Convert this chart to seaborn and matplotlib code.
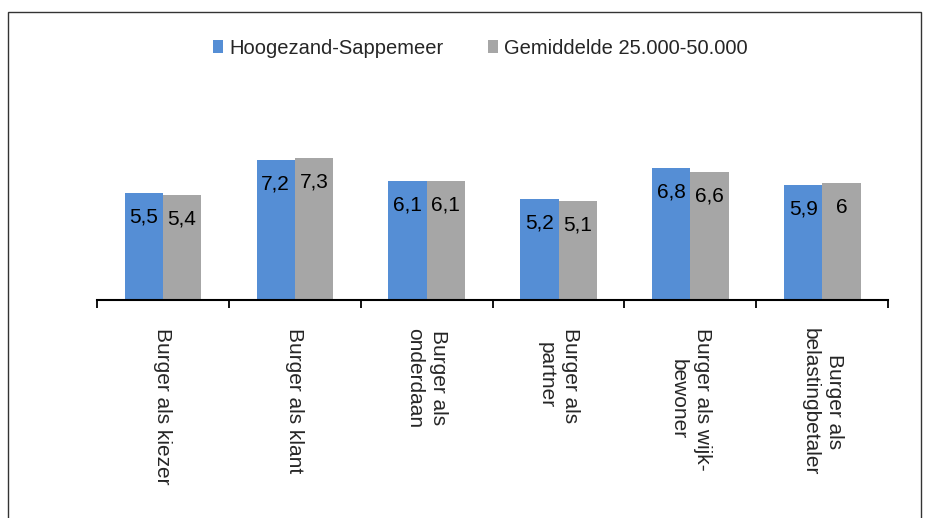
import numpy as np
import pandas as pd
import matplotlib
matplotlib.use("Agg")
import matplotlib.pyplot as plt
import seaborn as sns
from matplotlib.patches import Rectangle
from matplotlib.ticker import FixedLocator

categories = ["Burger als kiezer", "Burger als klant", "Burger als\nonderdaan",
              "Burger als\npartner", "Burger als wijk-\nbewoner", "Burger als\nbelastingbetaler"]
series = ["Hoogezand-Sappemeer", "Gemiddelde 25.000-50.000"]
hoogezand = [5.5, 7.2, 6.1, 5.2, 6.8, 5.9]
gemiddelde = [5.4, 7.3, 6.1, 5.1, 6.6, 6.0]

df = pd.DataFrame({
    "cat": categories * 2,
    "serie": [series[0]] * 6 + [series[1]] * 6,
    "waarde": hoogezand + gemiddelde,
})

sns.set_style("white")
plt.rcParams["font.family"] = ["Liberation Sans", "DejaVu Sans"]

fig = plt.figure(figsize=(9.33, 5.18), dpi=100)
ax = fig.add_axes([0.104, 0.421, 0.848, 0.45])

sns.barplot(data=df, x="cat", y="waarde", hue="serie", hue_order=series,
            palette=["#558ED5", "#A6A6A6"], width=0.58, saturation=1,
            errorbar=None, linewidth=0, ax=ax)

ax.set_ylim(0, 12.0)
ax.set_xlim(-0.5, 5.5)
ax.set_xlabel("")
ax.set_ylabel("")
ax.set_yticks([])
for s in ["left", "right", "top"]:
    ax.spines[s].set_visible(False)
ax.spines["bottom"].set_linewidth(1.5)
ax.spines["bottom"].set_color("black")

ax.xaxis.set_minor_locator(FixedLocator(np.arange(-0.5, 6, 1)))
ax.tick_params(axis="x", which="minor", length=6, width=1.3, color="black",
               direction="out", bottom=True)
ax.set_xticks(range(len(categories)))
ax.set_xticklabels([])
ax.tick_params(axis="x", which="major", length=0)

# category labels drawn as text so the short line centres on the long one
trans = ax.get_xaxis_transform()
for i, lab in enumerate(categories):
    ax.annotate(lab, (i, 0), xycoords=trans, xytext=(0, -28),
                textcoords="offset pixels", rotation=270, ha="center", va="top",
                fontsize=15, linespacing=1.35, multialignment="center")

for p in ax.patches:
    h = p.get_height()
    if h == 0 or np.isnan(h):
        continue
    txt = f"{h:g}".replace(".", ",")
    ax.annotate(txt, (p.get_x() + p.get_width() / 2, h), xytext=(0, -24),
                textcoords="offset pixels", ha="center", va="center",
                fontsize=15, color="black")

ax.legend_.remove()
handles, labels = ax.get_legend_handles_labels()
fig.legend(handles, labels, loc="center", bbox_to_anchor=(0.515, 0.907), ncol=2,
           frameon=False, fontsize=14.5, handlelength=0.5, handleheight=0.6,
           handletextpad=0.3, columnspacing=2.2)

fig.patches.append(Rectangle((0.0086, -0.02), 0.979, 0.997, transform=fig.transFigure,
                             fill=False, edgecolor="#333333", linewidth=1.0))

fig.savefig("out.png", dpi=100)
